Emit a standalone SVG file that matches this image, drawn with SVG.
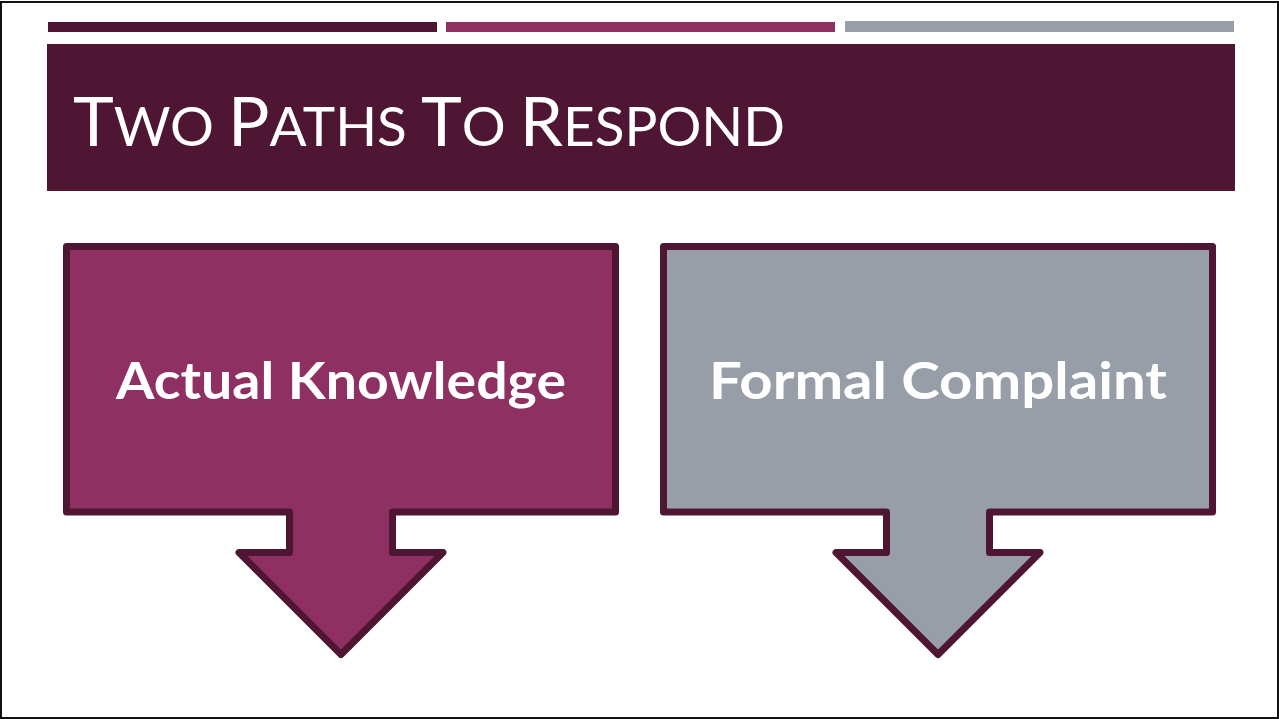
<svg xmlns="http://www.w3.org/2000/svg" width="1279" height="719" viewBox="0 0 1279 719">
<style>
.t{font-family:Lato,"Open Sans","Liberation Sans",sans-serif;fill:#fff}
.lbl{font-family:Lato,"Open Sans","Liberation Sans",sans-serif;font-weight:bold;font-size:52px;fill:#fff;text-anchor:middle}
.shape{stroke:#4E1633;stroke-width:7;stroke-linejoin:round}
</style>
<rect x="0" y="0" width="1279" height="719" fill="#fff"/>
<rect x="1" y="2" width="1277" height="716" fill="none" stroke="#111" stroke-width="2"/>
<g id="bars">
<rect x="48" y="22" width="389" height="10" fill="#4E1633"/>
<rect x="446" y="22" width="389" height="10" fill="#8E3162"/>
<rect x="845" y="21" width="389" height="11" fill="#979EA8"/>
</g>
<g id="title">
<rect x="47" y="44" width="1188" height="147" fill="#4E1633"/>
<text class="t" x="73" y="146" textLength="712" lengthAdjust="spacingAndGlyphs"><tspan font-size="68">T</tspan><tspan font-size="54">WO </tspan><tspan font-size="68">P</tspan><tspan font-size="54">ATHS </tspan><tspan font-size="68">T</tspan><tspan font-size="54">O </tspan><tspan font-size="68">R</tspan><tspan font-size="54">ESPOND</tspan></text>
</g>
<g id="actual-knowledge">
<path class="shape" fill="#8E3162" d="M66.5,246.5 H615.5 V512 H392.5 V552.5 H443 L341,654.5 L239,552.5 H289.5 V512 H66.5 Z"/>
<text class="lbl" x="341" y="399" textLength="450" lengthAdjust="spacingAndGlyphs">Actual Knowledge</text>
</g>
<g id="formal-complaint">
<path class="shape" fill="#979EA8" d="M663.5,246.5 H1212.5 V512 H989.5 V552.5 H1040 L938,654.5 L836,552.5 H886.5 V512 H663.5 Z"/>
<text class="lbl" x="938" y="399" textLength="458" lengthAdjust="spacingAndGlyphs">Formal Complaint</text>
</g>
<g id="connectors"/>
</svg>
